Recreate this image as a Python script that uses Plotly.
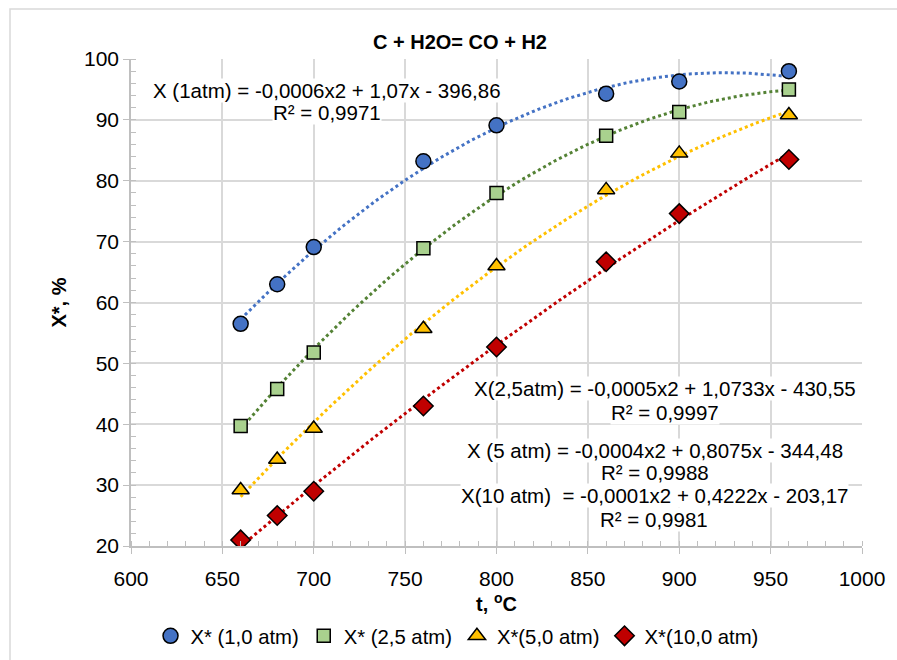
import numpy as np
import plotly.graph_objects as go

# Temperature, °C
temps = [660, 680, 700, 760, 800, 860, 900, 960]

# Equilibrium conversion X*, % at each pressure
x_1atm = [56.5, 63.0, 69.1, 83.2, 89.1, 94.3, 96.3, 98.0]
x_25atm = [39.7, 45.8, 51.8, 68.9, 78.0, 87.4, 91.3, 95.0]
x_5atm = [29.2, 34.2, 39.3, 55.7, 66.0, 78.5, 84.5, 90.8]
x_10atm = [21.0, 25.0, 29.0, 43.0, 52.7, 66.7, 74.6, 83.5]

series = [
    ("X* (1,0 atm)", x_1atm, "circle", "#4472C4", "#4472C4", 15),
    ("X* (2,5 atm)", x_25atm, "square", "#A9D18E", "#548235", 13),
    ("X*(5,0 atm)", x_5atm, "triangle-up", "#FFC000", "#FFC000", 15),
    ("X*(10,0 atm)", x_10atm, "diamond", "#C00000", "#C00000", 15),
]

fig = go.Figure()

# Second-order polynomial trendlines (dotted)
xs = np.linspace(min(temps), max(temps), 200)
for name, ys, sym, fill, tcol, size in series:
    coef = np.polyfit(temps, ys, 2)
    fig.add_trace(go.Scatter(
        x=xs, y=np.polyval(coef, xs), mode="lines",
        line=dict(color=tcol, width=3, dash="dot"),
        showlegend=False, hoverinfo="skip",
    ))

for name, ys, sym, fill, tcol, size in series:
    fig.add_trace(go.Scatter(
        x=temps, y=ys, mode="markers", name=name,
        marker=dict(symbol=sym, size=size, color=fill,
                    line=dict(color="black", width=1.5)),
    ))

font_family = "Liberation Sans, Arial, sans-serif"

# Trendline equations: (text line, centre x px, centre y px)
eq_lines = [
    ("X (1atm) = -0,0006x2 + 1,07x - 396,86", 327, 90),
    ("R² = 0,9971", 327, 113),
    ("X(2,5atm) = -0,0005x2 + 1,0733x - 430,55", 665, 389),
    ("R² = 0,9997", 665, 412),
    ("X (5 atm) = -0,0004x2 + 0,8075x - 344,48", 655, 450),
    ("R² = 0,9988", 655, 472),
    ("X(10 atm)  = -0,0001x2 + 0,4222x - 203,17", 654, 495),
    ("R² = 0,9981", 654, 519),
]

L, R, T, B = 131, 862, 59, 546
W, H = 897, 660

def px_to_paper(px, py):
    return (px - L) / (R - L), (B - py) / (B - T)

for text, cx, cy in eq_lines:
    ax_, ay_ = px_to_paper(cx, cy)
    fig.add_annotation(
        text=text, x=ax_, y=ay_, xref="paper", yref="paper",
        xanchor="center", yanchor="middle", showarrow=False,
        font=dict(size=20.5, color="#000000", family=font_family),
        bgcolor="white", borderpad=0,
    )

# Chart area border
bx0, by0 = px_to_paper(10, 670)
bx1, by1 = px_to_paper(905, 9)
fig.add_shape(type="rect", xref="paper", yref="paper",
              x0=bx0, y0=by0, x1=bx1, y1=by1,
              line=dict(color="#D9D9D9", width=1.5), fillcolor="rgba(0,0,0,0)",
              layer="below")

tx, ty = px_to_paper(460, 42)
fig.add_annotation(text="<b>C + H2O= CO + H2</b>", x=tx, y=ty,
                   xref="paper", yref="paper", showarrow=False,
                   xanchor="center", yanchor="middle",
                   font=dict(size=20, color="#000000", family=font_family))

fig.update_layout(
    width=W, height=H,
    margin=dict(l=L, r=W - R, t=T, b=H - B, autoexpand=False),
    paper_bgcolor="white", plot_bgcolor="white",
    font=dict(family=font_family, size=21, color="#000000"),
    legend=dict(orientation="h", x=0.446, xanchor="center",
                y=-0.144, yanchor="top", font=dict(size=20.3),
                itemwidth=30, tracegroupgap=0),
    xaxis=dict(
        range=[600, 1000], dtick=50, tick0=600, automargin=False,
        showgrid=True, gridcolor="#D9D9D9", gridwidth=1.5,
        showline=True, linecolor="#BFBFBF", linewidth=1.5,
        ticks="outside", ticklen=6, tickcolor="#BFBFBF",
        tickfont=dict(size=21), ticklabelstandoff=7,
        minor=dict(dtick=10, ticks="inside", ticklen=5, tickcolor="#BFBFBF", showgrid=False),
        zeroline=False,
        title=dict(text="<b>t, <sup>o</sup>C</b>", font=dict(size=20), standoff=3),
    ),
    yaxis=dict(
        range=[20, 100], dtick=10, tick0=20, automargin=False,
        showgrid=True, gridcolor="#D9D9D9", gridwidth=1.5,
        showline=True, linecolor="#BFBFBF", linewidth=1.5,
        ticks="outside", ticklen=6, tickcolor="#BFBFBF",
        tickfont=dict(size=21),
        minor=dict(dtick=2, ticks="inside", ticklen=5, tickcolor="#BFBFBF", showgrid=False),
        zeroline=False,
        title=dict(text="<b>X*, %</b>", font=dict(size=20), standoff=12),
    ),
)

fig.write_html("out.html")
